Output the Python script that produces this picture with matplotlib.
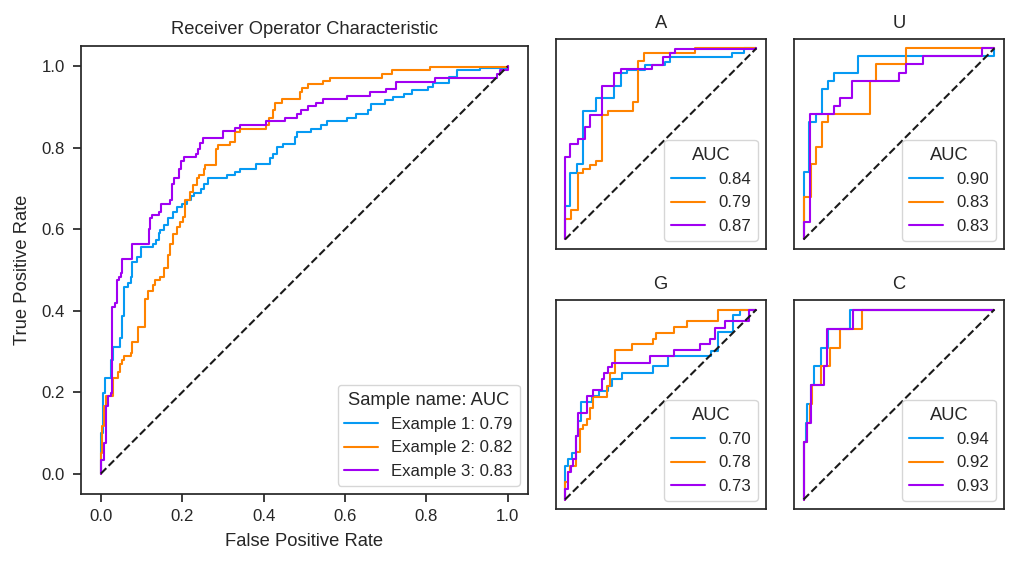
import matplotlib
matplotlib.use("Agg")
import matplotlib.pyplot as plt
import seaborn as sns

sns.set_theme(style="ticks", context="notebook", font_scale=1.1)
plt.rcParams["font.family"] = ["Liberation Sans", "DejaVu Sans"]

COLORS = ["#069af3", "#ff8300", "#a100f2"]

# ---------------- main ROC data ----------------
sample_names = ["Example 1", "Example 2", "Example 3"]
sample_auc = ["0.79", "0.82", "0.83"]

ex1_fpr = [0, 0, 0.005, 0.011, 0.025, 0.030, 0.047, 0.052, 0.058, 0.066, 0.073, 0.077, 0.088, 0.098,
           0.128, 0.136, 0.143, 0.146, 0.155, 0.166, 0.178, 0.187, 0.199, 0.212, 0.221, 0.229, 0.246,
           0.254, 0.263, 0.309, 0.331, 0.343, 0.381, 0.415, 0.424, 0.432, 0.447, 0.478, 0.481, 0.516,
           0.542, 0.555, 0.605, 0.626, 0.656, 0.664, 0.698, 0.719, 0.745, 0.766, 0.804, 0.817, 0.855,
           0.876, 0.931, 1.0]
ex1_tpr = [0, 0.1, 0.198, 0.234, 0.279, 0.312, 0.333, 0.386, 0.459, 0.467, 0.484, 0.52, 0.533, 0.556,
           0.565, 0.574, 0.59, 0.598, 0.61, 0.627, 0.643, 0.655, 0.663, 0.672, 0.681, 0.69, 0.7, 0.712,
           0.725, 0.733, 0.741, 0.749, 0.76, 0.774, 0.786, 0.802, 0.81, 0.827, 0.839, 0.847, 0.855,
           0.866, 0.874, 0.884, 0.892, 0.908, 0.917, 0.926, 0.933, 0.941, 0.949, 0.958, 0.974, 0.99,
           0.997, 1.0]

ex2_fpr = [0, 0, 0.003, 0.008, 0.012, 0.030, 0.041, 0.047, 0.053, 0.058, 0.073, 0.077, 0.092, 0.109,
           0.115, 0.128, 0.132, 0.146, 0.155, 0.166, 0.170, 0.177, 0.187, 0.195, 0.202, 0.208, 0.219,
           0.227, 0.236, 0.242, 0.254, 0.256, 0.284, 0.288, 0.318, 0.329, 0.343, 0.407, 0.413, 0.424,
           0.428, 0.445, 0.489, 0.495, 0.508, 0.546, 0.563, 0.690, 0.715, 0.808, 1.0]
ex2_tpr = [0, 0.05, 0.118, 0.165, 0.19, 0.234, 0.25, 0.27, 0.28, 0.288, 0.297, 0.324, 0.361, 0.43,
           0.449, 0.463, 0.475, 0.484, 0.504, 0.537, 0.565, 0.588, 0.606, 0.618, 0.631, 0.672, 0.692,
           0.708, 0.725, 0.733, 0.749, 0.759, 0.798, 0.806, 0.815, 0.839, 0.847, 0.855, 0.874, 0.892,
           0.91, 0.921, 0.937, 0.948, 0.956, 0.964, 0.972, 0.982, 0.99, 0.998, 1.0]

ex3_fpr = [0, 0, 0.007, 0.012, 0.018, 0.026, 0.028, 0.035, 0.039, 0.045, 0.049, 0.053, 0.077, 0.119,
           0.121, 0.126, 0.143, 0.147, 0.170, 0.176, 0.180, 0.191, 0.197, 0.204, 0.233, 0.239, 0.244,
           0.250, 0.301, 0.329, 0.343, 0.407, 0.453, 0.481, 0.491, 0.508, 0.529, 0.546, 0.605, 0.662,
           0.702, 0.726, 0.821, 0.973, 0.981, 1.0]
ex3_tpr = [0, 0.034, 0.075, 0.165, 0.19, 0.198, 0.41, 0.418, 0.475, 0.484, 0.492, 0.526, 0.563, 0.6,
           0.627, 0.635, 0.643, 0.662, 0.672, 0.712, 0.725, 0.749, 0.768, 0.778, 0.786, 0.798, 0.812,
           0.823, 0.841, 0.849, 0.857, 0.866, 0.874, 0.884, 0.892, 0.902, 0.910, 0.919, 0.928, 0.937,
           0.945, 0.962, 0.972, 0.982, 0.990, 1.0]

# ---------------- per-group data ----------------
group_titles = ["A", "U", "G", "C"]
group_auc = {
    "A": ["0.84", "0.79", "0.87"],
    "U": ["0.90", "0.83", "0.83"],
    "G": ["0.70", "0.78", "0.73"],
    "C": ["0.94", "0.92", "0.93"],
}

A_fpr1 = [0, 0, 0.026, 0.061, 0.096, 0.16, 0.257, 0.29, 0.322, 0.417, 0.522, 0.548, 0.87, 0.934, 1.0]
A_tpr1 = [0, 0.175, 0.346, 0.393, 0.674, 0.738, 0.8, 0.869, 0.887, 0.913, 0.93, 0.956, 0.977, 1.0, 1.0]
A_fpr2 = [0, 0, 0.031, 0.066, 0.096, 0.13, 0.16, 0.191, 0.226, 0.357, 0.383, 0.414, 0.678, 1.0]
A_tpr2 = [0, 0.105, 0.154, 0.346, 0.366, 0.389, 0.41, 0.651, 0.674, 0.721, 0.935, 0.977, 1.0, 1.0]
A_fpr3 = [0, 0, 0.026, 0.066, 0.104, 0.13, 0.191, 0.257, 0.292, 0.452, 0.513, 0.548, 0.577, 1.0]
A_tpr3 = [0, 0.433, 0.497, 0.524, 0.59, 0.651, 0.803, 0.869, 0.89, 0.913, 0.953, 0.974, 0.997, 1.0]

U_fpr1 = [0, 0, 0.031, 0.066, 0.096, 0.127, 0.158, 0.283, 1.0]
U_tpr1 = [0, 0.353, 0.614, 0.654, 0.785, 0.829, 0.873, 0.96, 1.0]
U_fpr2 = [0, 0, 0.04, 0.066, 0.096, 0.127, 0.348, 0.379, 0.536, 1.0]
U_tpr2 = [0, 0.223, 0.393, 0.485, 0.614, 0.654, 0.829, 0.92, 1.0, 1.0]
U_fpr3 = [0, 0, 0.035, 0.162, 0.193, 0.254, 0.501, 0.536, 0.628, 0.936, 1.0]
U_tpr3 = [0, 0.091, 0.654, 0.698, 0.742, 0.829, 0.873, 0.92, 0.96, 1.0, 1.0]

G_fpr1 = [0, 0, 0.014, 0.035, 0.056, 0.07, 0.082, 0.139, 0.177, 0.226, 0.247, 0.296, 0.457, 0.539,
          0.765, 0.8, 0.878, 0.913, 1.0]
G_tpr1 = [0, 0.178, 0.213, 0.245, 0.336, 0.414, 0.514, 0.545, 0.572, 0.598, 0.636, 0.668, 0.703, 0.755,
          0.781, 0.881, 0.969, 0.997, 1.0]
G_fpr2 = [0, 0, 0.014, 0.026, 0.056, 0.078, 0.096, 0.113, 0.13, 0.148, 0.217, 0.235, 0.261, 0.348,
          0.457, 0.473, 0.57, 0.635, 0.8, 1.0]
G_tpr2 = [0, 0.091, 0.147, 0.178, 0.248, 0.371, 0.392, 0.423, 0.484, 0.537, 0.598, 0.668, 0.787, 0.816,
          0.846, 0.878, 0.909, 0.939, 0.997, 1.0]
G_fpr3 = [0, 0, 0.014, 0.031, 0.043, 0.056, 0.066, 0.113, 0.148, 0.191, 0.205, 0.226, 0.247, 0.443,
          0.57, 0.704, 0.757, 0.783, 0.835, 0.96, 1.0]
G_tpr3 = [0, 0.056, 0.147, 0.178, 0.213, 0.336, 0.453, 0.545, 0.577, 0.633, 0.668, 0.699, 0.72, 0.755,
          0.787, 0.816, 0.843, 0.904, 0.939, 0.997, 1.0]

C_fpr1 = [0, 0, 0.014, 0.019, 0.04, 0.054, 0.089, 0.127, 0.245, 1.0]
C_tpr1 = [0, 0.302, 0.401, 0.501, 0.602, 0.702, 0.798, 0.899, 1.0, 1.0]
C_fpr2 = [0, 0, 0.019, 0.035, 0.045, 0.092, 0.136, 0.193, 0.304, 1.0]
C_tpr2 = [0, 0.302, 0.401, 0.501, 0.602, 0.702, 0.798, 0.899, 1.0, 1.0]
C_fpr3 = [0, 0, 0.019, 0.04, 0.106, 0.123, 0.258, 1.0]
C_tpr3 = [0, 0.302, 0.401, 0.602, 0.702, 0.899, 1.0, 1.0]

group_curves = {
    "A": [(A_fpr1, A_tpr1), (A_fpr2, A_tpr2), (A_fpr3, A_tpr3)],
    "U": [(U_fpr1, U_tpr1), (U_fpr2, U_tpr2), (U_fpr3, U_tpr3)],
    "G": [(G_fpr1, G_tpr1), (G_fpr2, G_tpr2), (G_fpr3, G_tpr3)],
    "C": [(C_fpr1, C_tpr1), (C_fpr2, C_tpr2), (C_fpr3, C_tpr3)],
}

W, H = 1017, 565
fig = plt.figure(figsize=(W / 100, H / 100), dpi=100)


def rect(l, t, r, b):
    return [l / W, 1 - b / H, (r - l) / W, (b - t) / H]


ax = fig.add_axes(rect(80.5, 46, 528, 494))
main_curves = [(ex1_fpr, ex1_tpr), (ex2_fpr, ex2_tpr), (ex3_fpr, ex3_tpr)]
for (f, t), name, auc, c in zip(main_curves, sample_names, sample_auc, COLORS):
    ax.plot(f, t, drawstyle="steps-post", color=c, lw=1.5, label=f"{name}: {auc}")
ax.plot([0, 1], [0, 1], "k--", lw=1.5)
ax.set_title("Receiver Operator Characteristic", pad=8.5)
ax.set_xlabel("False Positive Rate", labelpad=6.5)
ax.set_ylabel("True Positive Rate", labelpad=7.5)
ax.tick_params(pad=5, length=6)
ax.legend(title="Sample name: AUC", loc="lower right")

positions = {
    "A": (555.5, 38.7, 766, 249),
    "U": (794, 38.7, 1004, 249),
    "G": (555.5, 300, 766, 509),
    "C": (794, 300, 1004, 509),
}
for g in group_titles:
    a = fig.add_axes(rect(*positions[g]))
    for (f, t), auc, c in zip(group_curves[g], group_auc[g], COLORS):
        a.plot(f, t, drawstyle="steps-post", color=c, lw=1.5, label=auc)
    a.plot([0, 1], [0, 1], "k--", lw=1.5)
    a.set_xticks([])
    a.set_yticks([])
    a.set_title(g, pad=8)
    a.legend(title="AUC", loc="lower right")

fig.savefig("out.png", dpi=100)
